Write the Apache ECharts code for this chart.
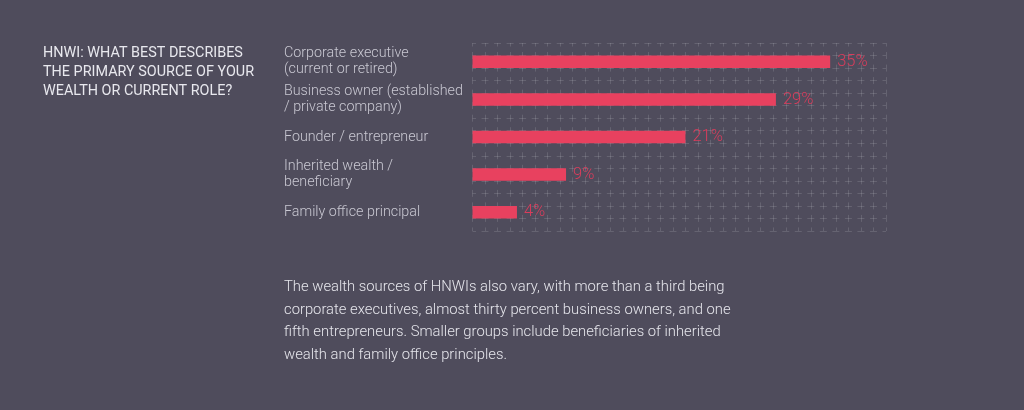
<!DOCTYPE html>
<html>
<head>
<meta charset="utf-8">
<script src="https://cdn.jsdelivr.net/npm/echarts@6/dist/echarts.min.js"></script>
<style>
  html, body { margin: 0; padding: 0; background: #4f4c5c; }
  #chart { width: 1024px; height: 410px; }
</style>
</head>
<body>
<div id="chart"></div>
<script>
// Data
const categories = [
  'Corporate executive\n(current or retired)',
  'Business owner (established\n/ private company)',
  'Founder / entrepreneur',
  'Inherited wealth /\nbeneficiary',
  'Family office principal'
];
// bar lengths as measured (percent)
const shares = [34.6, 29.35, 20.6, 9.05, 4.3];
// printed labels
const shareLabels = ['35', '29', '21', '9', '4'];

const titleText = 'HNWI: WHAT BEST DESCRIBES\nTHE PRIMARY SOURCE OF YOUR\nWEALTH OR CURRENT ROLE?';
const bodyText = 'The wealth sources of HNWIs also vary, with more than a third being\n' +
  'corporate executives, almost thirty percent business owners, and one\n' +
  'fifth entrepreneurs. Smaller groups include beneficiaries of inherited\n' +
  'wealth and family office principles.';

const chart = echarts.init(document.getElementById('chart'), null, { renderer: 'canvas' });

const patternColor = 'rgba(255,255,255,0.13)';
const dash = [7, 5.53];

chart.setOption({
  backgroundColor: '#4f4c5c',
  animation: false,
  title: [
    {
      text: titleText,
      left: 38, top: 39,
      padding: 5,
      textStyle: {
        fontFamily: 'Roboto', fontWeight: 400, fontSize: 14.4,
        color: '#e8e8ee', lineHeight: 19
      }
    },
    {
      text: bodyText,
      left: 279, top: 271,
      padding: 5,
      textStyle: {
        fontFamily: 'Roboto', fontWeight: 300, fontSize: 14.8,
        color: '#e6e6ec', lineHeight: 22.7
      }
    }
  ],
  grid: { left: 472.5, top: 43, width: 413.5, height: 188, containLabel: false },
  xAxis: [
    { type: 'value', min: 0, max: 40, show: false },
    {
      type: 'value', min: 0, max: 33, interval: 1,
      axisLine: { show: false }, axisTick: { show: false }, axisLabel: { show: false },
      splitLine: { show: true, lineStyle: { color: patternColor, width: 1, type: dash, dashOffset: 3.5 } }
    }
  ],
  yAxis: [
    {
      type: 'category', data: categories, inverse: true,
      axisLine: { show: false }, axisTick: { show: false },
      splitLine: { show: false },
      axisLabel: {
        align: 'left', margin: 188.5,
        fontFamily: 'Roboto', fontWeight: 300, fontSize: 14.3,
        color: '#c9c8d2', lineHeight: 16
      }
    },
    {
      type: 'value', min: 0, max: 15, interval: 1,
      axisLine: { show: false }, axisTick: { show: false }, axisLabel: { show: false },
      splitLine: { show: true, lineStyle: { color: patternColor, width: 1, type: dash, dashOffset: 3.5 } }
    }
  ],
  series: [
    {
      type: 'bar',
      xAxisIndex: 0, yAxisIndex: 0,
      data: shares,
      barWidth: 12.5,
      itemStyle: { color: '#e8415f' },
      label: {
        show: true, position: 'right', distance: 7,
        fontFamily: 'Roboto', fontWeight: 300, fontSize: 16.5,
        color: '#d93d5c',
        formatter: p => shareLabels[p.dataIndex] + '%'
      }
    }
  ]
});
</script>
</body>
</html>
